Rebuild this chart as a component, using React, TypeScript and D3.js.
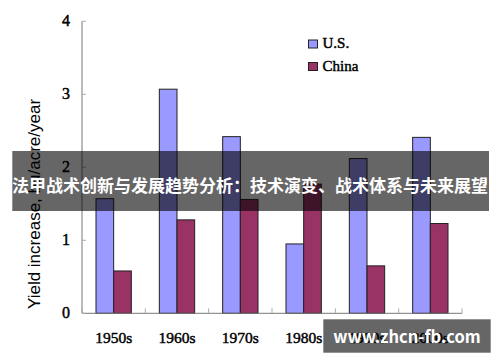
import React from 'react';
import * as d3 from 'd3';

const decades = ['1950s', '1960s', '1970s', '1980s', '1990s', '2000s'];
const series = ['U.S.', 'China'];
const usValues = [1.57, 3.07, 2.42, 0.95, 2.12, 2.41];
const chinaValues = [0.58, 1.28, 1.56, 1.77, 0.65, 1.23];
const colors = ['#9999FF', '#993366'];
const yTicks = [0, 1, 2, 3, 4];
const banner = '法甲战术创新与发展趋势分析：技术演变、战术体系与未来展望';
const watermark = 'www.zhcn-fb.com';

export default function App() {
  const w = 500;
  const h = 362;
  const left = 82;
  const right = 462;
  const top = 21.3;
  const bottom = 313.3;

  const x = d3.scaleBand<string>().domain(decades).range([left, right]).padding(0);
  const inner = d3
    .scaleBand<string>()
    .domain(series)
    .range([14, x.bandwidth() - 14])
    .padding(0);
  const y = d3.scaleLinear().domain([0, 4]).range([bottom, top]);

  const rows = decades.map((d, i) => ({ d, vals: [usValues[i], chinaValues[i]] }));
  const serif = '"Liberation Serif", "Times New Roman", serif';
  // the old chart's serif text looks heavier than plain regular
  const thick = { stroke: '#000', strokeWidth: 0.45 };

  return (
    <svg
      width={w}
      height={h}
      style={{ position: 'absolute', left: 0, top: 0, background: '#fff' }}
    >
      {/* bars */}
      {rows.map((r) =>
        r.vals.map((v, j) => (
          <rect
            key={r.d + j}
            x={(x(r.d) as number) + (inner(series[j]) as number)}
            y={y(v)}
            width={inner.bandwidth()}
            height={y(0) - y(v)}
            fill={colors[j]}
            stroke="#222"
            strokeWidth={1}
          />
        ))
      )}

      {/* axes */}
      <line x1={left} x2={left} y1={top} y2={bottom} stroke="#777" />
      <line x1={left} x2={right} y1={bottom} y2={bottom} stroke="#777" />
      {yTicks.map((t) => (
        <g key={t}>
          <line x1={left} x2={left + 4} y1={y(t)} y2={y(t)} stroke="#aaa" />
          <text
            x={70}
            y={y(t) + 5}
            textAnchor="end"
            fontFamily={serif}
            fontSize={16}
            fill="#000"
            {...thick}
          >
            {t}
          </text>
        </g>
      ))}
      {decades.concat(['end']).map((d, i) => {
        const xx = left + i * x.bandwidth();
        return <line key={'t' + d} x1={xx} x2={xx} y1={bottom} y2={bottom - 5} stroke="#aaa" />;
      })}
      {decades.map((d) => (
        <text
          key={'l' + d}
          x={(x(d) as number) + x.bandwidth() / 2}
          y={343}
          textAnchor="middle"
          fontFamily={serif}
          fontSize={15.5}
          fill="#000"
          {...thick}
        >
          {d}
        </text>
      ))}

      {/* y label */}
      <text
        transform="translate(40,204) rotate(-90)"
        textAnchor="middle"
        fontFamily='"Liberation Sans", Arial, sans-serif'
        fontSize={17}
        fill="#000"
      >
        Yield increase, bu/acre/year
      </text>

      {/* legend */}
      {series.map((s, j) => (
        <g key={s} transform={`translate(308.5, ${40 + j * 22.5})`}>
          <rect width={9} height={8} fill={colors[j]} stroke="#222" />
          <text x={14} y={8.3} fontFamily={serif} fontSize={15} fill="#000" {...thick}>
            {s}
          </text>
        </g>
      ))}

      {/* overlay banner */}
      <rect x={12.3} y={151} width={476.7} height={60} fill="#000" fillOpacity={0.6} />
      <text
        x={250}
        y={192}
        textAnchor="middle"
        fontFamily='"Noto Sans CJK SC", sans-serif'
        fontWeight="bold"
        fontSize={17}
        fill="#fff"
      >
        {banner}
      </text>

      {/* watermark */}
      <rect x={323.3} y={319.3} width={167.4} height={33.4} fill="#000" fillOpacity={0.6} />
      <text
        x={407}
        y={343}
        textAnchor="middle"
        fontFamily='"Noto Sans CJK SC", sans-serif'
        fontWeight="bold"
        fontSize={16.5}
        fill="#fff"
      >
        {watermark}
      </text>
    </svg>
  );
}
